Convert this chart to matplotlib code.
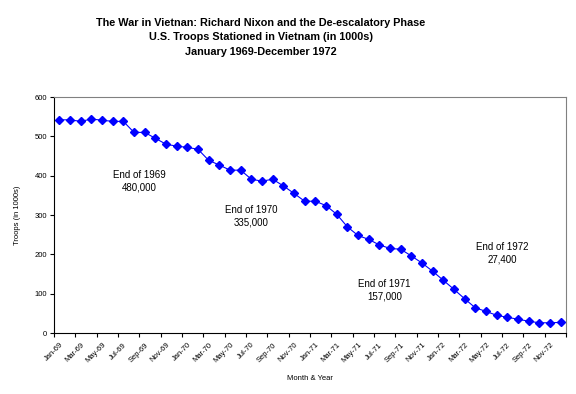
import numpy as np
import matplotlib
matplotlib.use("Agg")
import matplotlib.pyplot as plt

plt.rcParams['font.family'] = ['Liberation Sans', 'DejaVu Sans']

# monthly troop levels, Jan-69 .. Dec-72 (in 1000s)
months = ['Jan', 'Feb', 'Mar', 'Apr', 'May', 'Jun', 'Jul', 'Aug', 'Sep', 'Oct', 'Nov', 'Dec']
years = ['69', '70', '71', '72']
categories = [m + '-' + y for y in years for m in months]
troops = [542, 542, 538, 544, 541, 538, 538, 510, 510, 495, 480, 475,
          472, 467, 439, 427, 414, 414, 391, 386, 391, 374, 355, 335,
          335, 324, 302, 270, 248, 238, 224, 215, 213, 196, 178, 157,
          134, 111, 87, 64, 55, 45, 40, 35, 30, 26, 26, 27]

notes = ['End of 1969\n480,000', 'End of 1970\n335,000',
         'End of 1971\n157,000', 'End of 1972\n27,400']
note_pos = [(7.5, 385), (18.0, 297), (30.5, 108), (41.5, 203)]

fig = plt.figure(figsize=(5.76, 3.94), dpi=100)
ax = fig.add_axes([0.0938, 0.1548, 0.8888, 0.599])

x = np.arange(len(troops))
ax.plot(x, troops, color='#0000FF', lw=0.8, marker='D', ms=4, mec='#0000FF', mfc='#0000FF')

for txt, (tx, ty) in zip(notes, note_pos):
    ax.text(tx, ty, txt, ha='center', va='center', fontsize=7, linespacing=1.3)

ax.set_xlim(-0.5, 47.5)
ax.set_ylim(0, 600)
ax.set_yticks(range(0, 601, 100))
ax.tick_params(axis='y', labelsize=5.5, length=3, width=0.8, pad=2)

# ticks on category boundaries, labels under every second month
ax.set_xticks(np.arange(-0.5, 48, 2))
ax.set_xticklabels([])
ax.tick_params(axis='x', which='major', length=3, width=0.8)
ax.set_xticks(x[::2], minor=True)
ax.set_xticklabels(categories[::2], minor=True, rotation=45, ha='right',
                   rotation_mode='anchor', fontsize=5.5)
ax.tick_params(axis='x', which='minor', length=0, pad=6)

ax.set_ylabel('Troops (in 1000s)', fontsize=5.5, labelpad=10)
ax.set_xlabel('Month & Year', fontsize=5.5, labelpad=8)

for side in ['top', 'right']:
    ax.spines[side].set_color('#808080')
for side in ['left', 'bottom']:
    ax.spines[side].set_color('black')

fig.text(0.453, 0.955, 'The War in Vietnan: Richard Nixon and the De-escalatory Phase\n'
         'U.S. Troops Stationed in Vietnam (in 1000s)\nJanuary 1969-December 1972',
         ha='center', va='top', fontsize=7.8, fontweight='bold', linespacing=1.58)

fig.savefig('out.png', dpi=100, facecolor='white')
